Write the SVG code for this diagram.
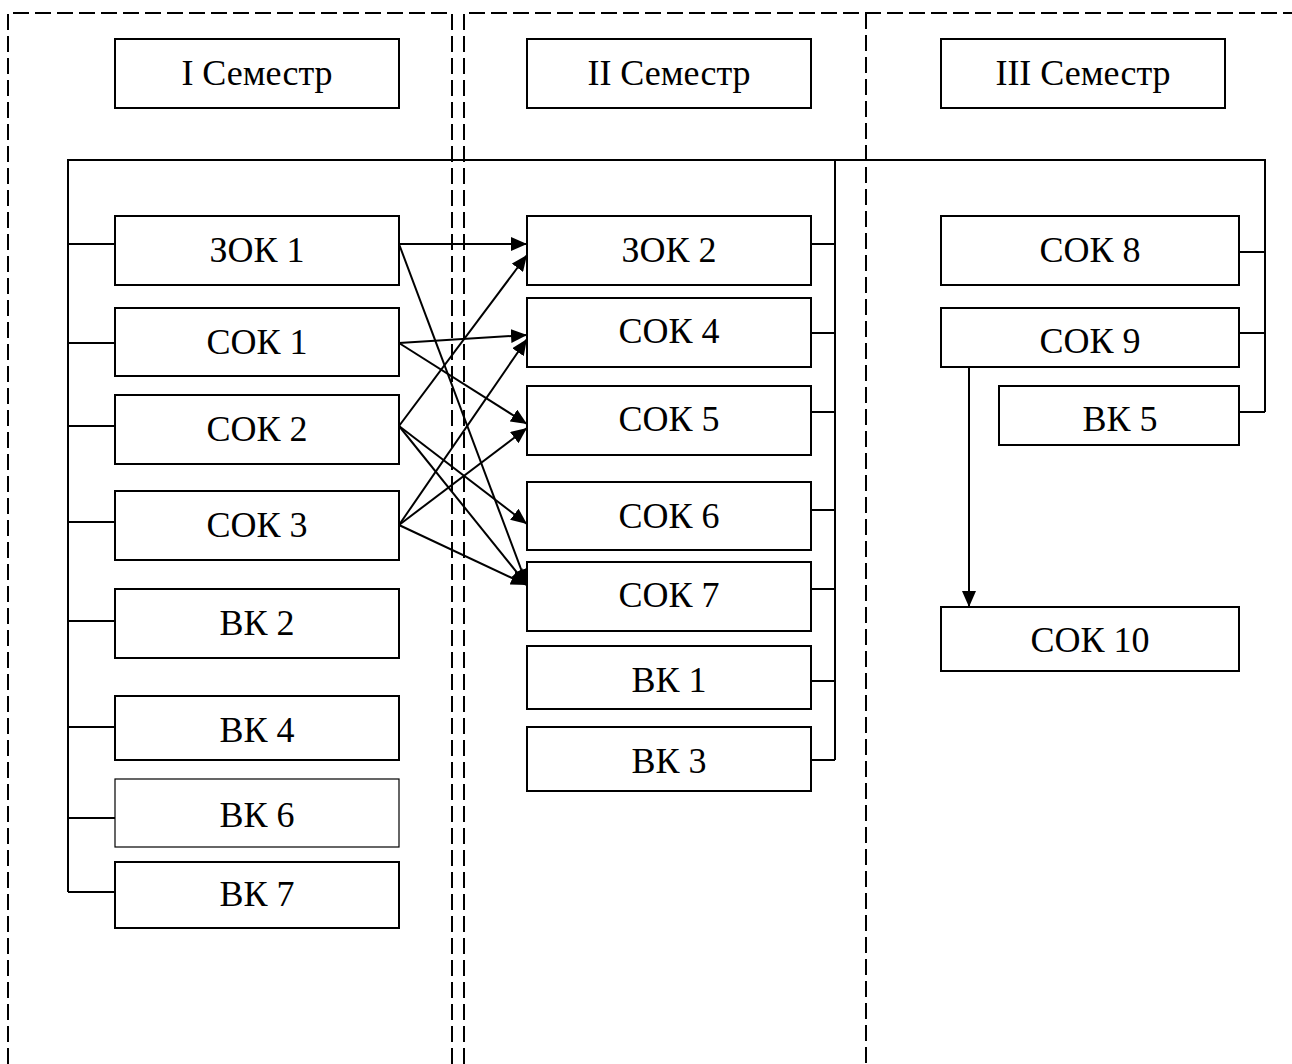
<svg xmlns="http://www.w3.org/2000/svg" width="1292" height="1064" viewBox="0 0 1292 1064">
<style>
.b{fill:#fff;stroke:#000;stroke-width:2}
.thin{stroke-width:1.2}
.t{font-family:"Liberation Serif","Times New Roman",serif;font-size:36px;text-anchor:middle;fill:#000}
.l{fill:none;stroke:#000;stroke-width:2}
.d{fill:none;stroke:#000;stroke-width:2;stroke-dasharray:16 6}
.a{fill:none;stroke:#000;stroke-width:2;marker-end:url(#ah)}
</style>
<defs>
<marker id="ah" markerUnits="userSpaceOnUse" markerWidth="18" markerHeight="14" refX="16" refY="7" orient="auto"><path d="M0,0 L16,7 L0,14 Z" fill="#000"/></marker>
</defs>
<rect width="1292" height="1064" fill="#fff"/>
<g id="frames">
<path class="d" d="M8,1064 V13 H452 V1064"/>
<path class="d" d="M464,1064 V13 H1292"/>
<path class="d" d="M866,13 V1064"/>
</g>
<g id="connectors">
<path class="l" d="M68,892 V160 H1265 V412"/>
<path class="l" d="M68,244 H115 M68,343 H115 M68,426 H115 M68,522 H115 M68,621 H115 M68,727 H115 M68,818 H115 M68,892 H115"/>
<path class="l" d="M835,160 V760 M811,244 H835 M811,333 H835 M811,412 H835 M811,510 H835 M811,589 H835 M811,681 H835 M811,760 H835"/>
<path class="l" d="M1239,252 H1265 M1239,333 H1265 M1239,412 H1265"/>
<line class="a" x1="399" y1="244" x2="527" y2="244"/>
<line class="a" x1="399" y1="244" x2="527" y2="585"/>
<line class="a" x1="399" y1="343" x2="527" y2="335"/>
<line class="a" x1="399" y1="343" x2="527" y2="424"/>
<line class="a" x1="399" y1="426" x2="527" y2="255"/>
<line class="a" x1="399" y1="426" x2="527" y2="524"/>
<line class="a" x1="399" y1="426" x2="527" y2="585"/>
<line class="a" x1="399" y1="525" x2="527" y2="339"/>
<line class="a" x1="399" y1="525" x2="527" y2="428"/>
<line class="a" x1="399" y1="525" x2="527" y2="585"/>
<line class="a" x1="969" y1="367" x2="969" y2="607"/>
</g>
<g id="sem1"><rect class="b" x="115" y="39" width="284" height="69"/><text class="t" x="257" y="85">I Семестр</text></g>
<g id="sem2"><rect class="b" x="527" y="39" width="284" height="69"/><text class="t" x="669" y="85">II Семестр</text></g>
<g id="sem3"><rect class="b" x="941" y="39" width="284" height="69"/><text class="t" x="1083" y="85">III Семестр</text></g>
<g id="zok1"><rect class="b" x="115" y="216" width="284" height="69"/><text class="t" x="257" y="262">ЗОК 1</text></g>
<g id="sok1"><rect class="b" x="115" y="308" width="284" height="68"/><text class="t" x="257" y="354">СОК 1</text></g>
<g id="sok2"><rect class="b" x="115" y="395" width="284" height="69"/><text class="t" x="257" y="441">СОК 2</text></g>
<g id="sok3"><rect class="b" x="115" y="491" width="284" height="69"/><text class="t" x="257" y="537">СОК 3</text></g>
<g id="vk2"><rect class="b" x="115" y="589" width="284" height="69"/><text class="t" x="257" y="635">ВК 2</text></g>
<g id="vk4"><rect class="b" x="115" y="696" width="284" height="64"/><text class="t" x="257" y="742">ВК 4</text></g>
<g id="vk6"><rect class="b thin" x="115" y="779" width="284" height="68"/><text class="t" x="257" y="827">ВК 6</text></g>
<g id="vk7"><rect class="b" x="115" y="862" width="284" height="66"/><text class="t" x="257" y="906">ВК 7</text></g>
<g id="zok2"><rect class="b" x="527" y="216" width="284" height="69"/><text class="t" x="669" y="262">ЗОК 2</text></g>
<g id="sok4"><rect class="b" x="527" y="298" width="284" height="69"/><text class="t" x="669" y="343">СОК 4</text></g>
<g id="sok5"><rect class="b" x="527" y="386" width="284" height="69"/><text class="t" x="669" y="431">СОК 5</text></g>
<g id="sok6"><rect class="b" x="527" y="482" width="284" height="68"/><text class="t" x="669" y="528">СОК 6</text></g>
<g id="sok7"><rect class="b" x="527" y="562" width="284" height="69"/><text class="t" x="669" y="607">СОК 7</text></g>
<g id="vk1"><rect class="b" x="527" y="646" width="284" height="63"/><text class="t" x="669" y="692">ВК 1</text></g>
<g id="vk3"><rect class="b" x="527" y="727" width="284" height="64"/><text class="t" x="669" y="773">ВК 3</text></g>
<g id="sok8"><rect class="b" x="941" y="216" width="298" height="69"/><text class="t" x="1090" y="262">СОК 8</text></g>
<g id="sok9"><rect class="b" x="941" y="308" width="298" height="59"/><text class="t" x="1090" y="353">СОК 9</text></g>
<g id="vk5"><rect class="b" x="999" y="386" width="240" height="59"/><text class="t" x="1120" y="431">ВК 5</text></g>
<g id="sok10"><rect class="b" x="941" y="607" width="298" height="64"/><text class="t" x="1090" y="652">СОК 10</text></g>
</svg>
